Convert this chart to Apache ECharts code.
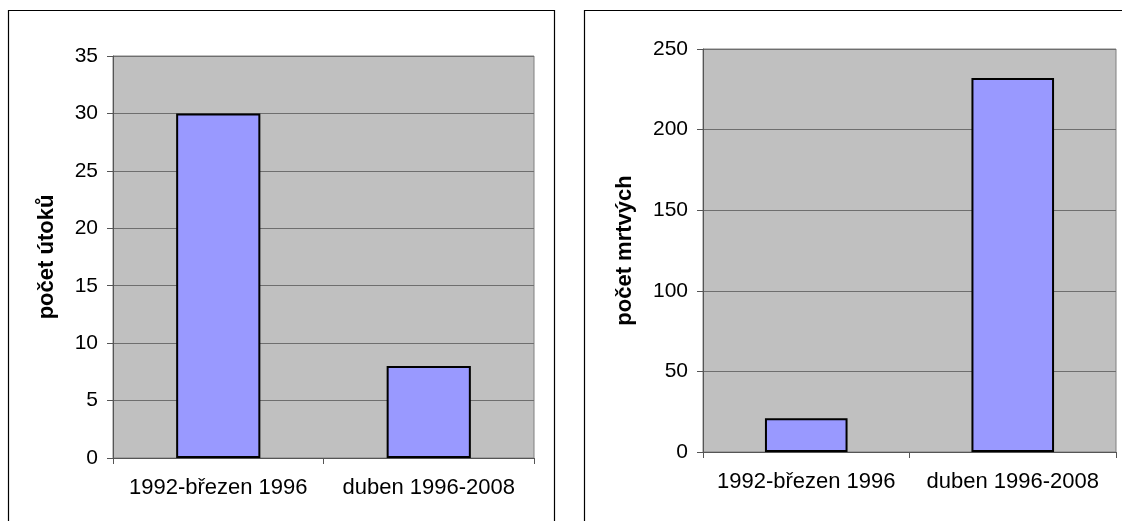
<!DOCTYPE html>
<html>
<head>
<meta charset="utf-8">
<script src="https://cdn.jsdelivr.net/npm/echarts@6/dist/echarts.min.js"></script>
<style>
html,body{margin:0;padding:0;background:#fff;}
#c{width:1122px;height:521px;}
</style>
</head>
<body>
<div id="c"></div>
<script>
const categories = ['1992-březen 1996', 'duben 1996-2008'];
const attacks = [30, 8];
const deaths = [21, 232];
const leftAxisName = 'počet útoků';
const rightAxisName = 'počet mrtvých';

const FONT = 'Liberation Sans';
const chart = echarts.init(document.getElementById('c'));

function xAxisCfg(idx) {
  return {
    type: 'category', gridIndex: idx, data: categories,
    axisLine: { lineStyle: { color: '#555', width: 1 } },
    axisTick: { show: true, length: 6, lineStyle: { color: '#555' } },
    axisLabel: { color: '#000', fontFamily: FONT, fontSize: 22, margin: 19, interval: 0, hideOverlap: false },
    splitLine: { show: false }
  };
}
function yAxisCfg(idx, max, interval, name, gap) {
  return {
    type: 'value', gridIndex: idx, min: 0, max: max, interval: interval,
    name: name, nameLocation: 'middle', nameGap: gap, nameRotate: 90,
    nameTextStyle: { color: '#000', fontFamily: FONT, fontSize: 22, fontWeight: 'bold' },
    axisLine: { show: true, lineStyle: { color: '#555', width: 1 } },
    axisTick: { show: true, length: 6, lineStyle: { color: '#555' } },
    axisLabel: { color: '#000', fontFamily: FONT, fontSize: 21, margin: 15 },
    splitLine: { show: true, lineStyle: { color: '#6e6e6e', width: 1 } }
  };
}
const barStyle = { color: '#9999FF', borderColor: '#000', borderWidth: 2 };

chart.setOption({
  animation: false,
  backgroundColor: '#fff',
  graphic: [
    { type: 'rect', shape: { x: 8.5, y: 10.5, width: 546, height: 700 }, style: { fill: 'none', stroke: '#000', lineWidth: 1.2 }, z: -1 },
    { type: 'rect', shape: { x: 584.5, y: 10.5, width: 700, height: 700 }, style: { fill: 'none', stroke: '#000', lineWidth: 1.2 }, z: -1 }
  ],
  grid: [
    { left: 113, top: 56, right: 588, bottom: 63, show: true, backgroundColor: '#C0C0C0', borderColor: '#808080', borderWidth: 1 },
    { left: 703, top: 49, right: 6, bottom: 69, show: true, backgroundColor: '#C0C0C0', borderColor: '#808080', borderWidth: 1 }
  ],
  xAxis: [xAxisCfg(0), xAxisCfg(1)],
  yAxis: [yAxisCfg(0, 35, 5, leftAxisName, 55), yAxisCfg(1, 250, 50, rightAxisName, 67)],
  series: [
    { type: 'bar', xAxisIndex: 0, yAxisIndex: 0, data: attacks, barWidth: '40%', itemStyle: barStyle },
    { type: 'bar', xAxisIndex: 1, yAxisIndex: 1, data: deaths, barWidth: '40%', itemStyle: barStyle }
  ]
});
</script>
</body>
</html>
